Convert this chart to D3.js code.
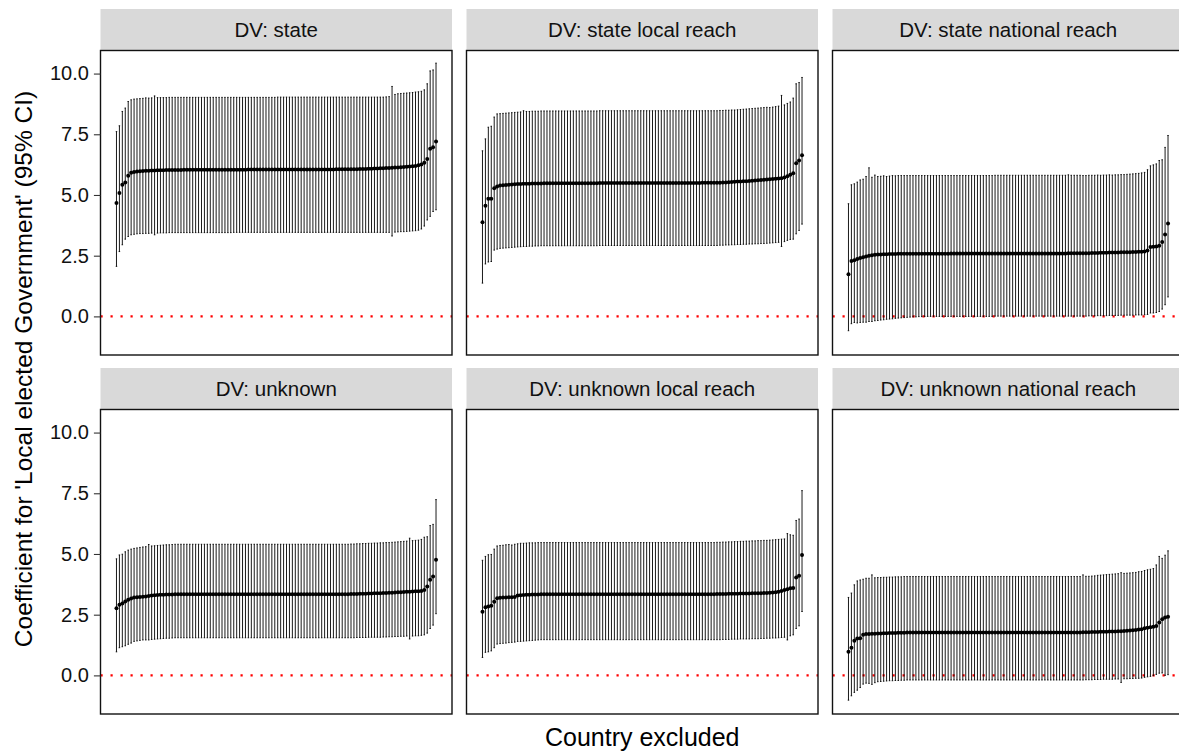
<!DOCTYPE html>
<html>
<head>
<meta charset="utf-8">
<title>Leave-one-country-out coefficients</title>
<script src="https://cdn.jsdelivr.net/npm/d3@7"></script>
<style>
body { margin: 0; background: #fff; }
svg text { font-family: "Liberation Sans", Arial, Helvetica, sans-serif; }
</style>
</head>
<body>
<script>

// facet labels, in panel order
var facets = ["DV: state", "DV: state local reach", "DV: state national reach",
              "DV: unknown", "DV: unknown local reach", "DV: unknown national reach"];

var yTicks = [0, 2.5, 5, 7.5, 10];

// point estimates, sorted, one value per excluded country (110 each)
var estState = [4.67,5.08,5.42,5.51,5.79,5.92,5.95,5.97,5.98,5.99,
  6.00,6.00,6.01,6.01,6.02,6.02,6.02,6.03,6.03,6.03,
  6.03,6.03,6.03,6.04,6.04,6.04,6.04,6.04,6.04,6.04,
  6.04,6.04,6.04,6.04,6.04,6.04,6.04,6.04,6.04,6.04,
  6.04,6.04,6.04,6.04,6.04,6.05,6.05,6.05,6.05,6.05,
  6.05,6.05,6.05,6.05,6.05,6.05,6.05,6.05,6.05,6.05,
  6.05,6.05,6.05,6.05,6.05,6.05,6.05,6.05,6.05,6.05,
  6.05,6.05,6.05,6.05,6.05,6.06,6.06,6.06,6.06,6.06,
  6.06,6.06,6.06,6.07,6.07,6.07,6.08,6.08,6.09,6.09,
  6.10,6.10,6.11,6.11,6.12,6.13,6.13,6.14,6.15,6.16,
  6.17,6.18,6.19,6.22,6.26,6.33,6.48,6.90,6.97,7.20];
var hiState = [7.61,7.85,8.44,8.58,8.85,8.92,8.95,8.96,8.97,8.98,
  9.00,8.99,9.00,9.08,9.01,9.01,9.01,9.01,9.02,9.02,
  9.02,9.02,9.02,9.02,9.02,9.02,9.02,9.02,9.02,9.02,
  9.02,9.02,9.02,9.02,9.02,9.02,9.02,9.02,9.02,9.02,
  9.02,9.02,9.02,9.02,9.02,9.02,9.02,9.02,9.02,9.02,
  9.02,9.02,9.02,9.02,9.02,9.03,9.03,9.03,9.03,9.03,
  9.03,9.03,9.03,9.03,9.03,9.03,9.03,9.03,9.03,9.03,
  9.03,9.03,9.03,9.03,9.03,9.03,9.03,9.03,9.03,9.03,
  9.03,9.03,9.03,9.03,9.03,9.03,9.03,9.03,9.03,9.03,
  9.03,9.03,9.04,9.05,9.47,9.14,9.17,9.18,9.19,9.20,
  9.21,9.22,9.24,9.25,9.27,9.33,9.58,10.11,10.15,10.43];
var loState = [2.06,2.67,2.95,3.18,3.29,3.36,3.38,3.40,3.41,3.41,
  3.42,3.42,3.43,3.36,3.43,3.44,3.44,3.44,3.45,3.45,
  3.45,3.45,3.45,3.45,3.45,3.45,3.45,3.45,3.45,3.45,
  3.45,3.45,3.45,3.45,3.45,3.45,3.45,3.45,3.45,3.45,
  3.46,3.46,3.46,3.46,3.46,3.46,3.46,3.46,3.46,3.46,
  3.46,3.46,3.46,3.46,3.46,3.46,3.46,3.46,3.46,3.46,
  3.46,3.46,3.46,3.46,3.46,3.46,3.46,3.46,3.46,3.46,
  3.46,3.46,3.46,3.46,3.46,3.46,3.46,3.46,3.46,3.46,
  3.46,3.46,3.46,3.46,3.46,3.46,3.46,3.46,3.46,3.46,
  3.46,3.46,3.46,3.46,3.31,3.47,3.48,3.49,3.49,3.50,
  3.51,3.52,3.53,3.55,3.60,3.72,3.97,4.12,4.32,4.39];

var estStateLocal = [3.88,4.56,4.84,4.84,5.28,5.35,5.39,5.40,5.41,5.42,
  5.43,5.44,5.45,5.45,5.46,5.46,5.46,5.47,5.47,5.47,
  5.47,5.48,5.48,5.48,5.48,5.48,5.48,5.48,5.48,5.48,
  5.48,5.48,5.48,5.48,5.48,5.48,5.48,5.48,5.48,5.48,
  5.49,5.49,5.49,5.49,5.49,5.49,5.49,5.49,5.49,5.49,
  5.49,5.49,5.49,5.49,5.49,5.49,5.49,5.49,5.49,5.49,
  5.49,5.49,5.49,5.49,5.49,5.49,5.49,5.49,5.49,5.49,
  5.49,5.49,5.49,5.49,5.49,5.50,5.50,5.50,5.50,5.50,
  5.50,5.50,5.51,5.51,5.52,5.53,5.54,5.55,5.56,5.57,
  5.57,5.58,5.59,5.60,5.61,5.62,5.63,5.64,5.65,5.66,
  5.67,5.68,5.69,5.72,5.77,5.83,5.90,6.31,6.42,6.64];
var hiStateLocal = [6.82,7.31,7.79,7.83,8.21,8.34,8.35,8.36,8.37,8.38,
  8.39,8.40,8.41,8.42,8.47,8.44,8.44,8.45,8.45,8.45,
  8.46,8.46,8.46,8.46,8.46,8.46,8.46,8.46,8.46,8.46,
  8.46,8.46,8.46,8.46,8.46,8.46,8.46,8.46,8.46,8.46,
  8.47,8.47,8.47,8.47,8.47,8.47,8.47,8.47,8.47,8.47,
  8.47,8.47,8.47,8.47,8.47,8.47,8.47,8.47,8.47,8.47,
  8.47,8.47,8.47,8.47,8.47,8.47,8.47,8.47,8.47,8.47,
  8.47,8.47,8.47,8.47,8.47,8.47,8.47,8.47,8.47,8.47,
  8.47,8.48,8.48,8.49,8.49,8.50,8.50,8.51,8.52,8.53,
  8.54,8.55,8.56,8.57,8.58,8.59,8.60,8.61,8.60,8.62,
  8.64,8.66,9.10,8.71,8.77,8.83,8.99,9.58,9.63,9.84];
var loStateLocal = [1.37,2.16,2.24,2.26,2.73,2.77,2.80,2.81,2.82,2.83,
  2.84,2.85,2.86,2.87,2.88,2.88,2.89,2.89,2.90,2.90,
  2.91,2.91,2.91,2.91,2.91,2.91,2.91,2.91,2.91,2.91,
  2.91,2.91,2.91,2.91,2.91,2.91,2.91,2.91,2.91,2.91,
  2.92,2.92,2.92,2.92,2.92,2.92,2.92,2.92,2.92,2.92,
  2.92,2.92,2.92,2.92,2.92,2.92,2.92,2.92,2.92,2.92,
  2.92,2.92,2.92,2.92,2.92,2.92,2.92,2.92,2.92,2.92,
  2.92,2.92,2.92,2.92,2.92,2.92,2.92,2.92,2.92,2.92,
  2.92,2.93,2.93,2.94,2.94,2.95,2.95,2.96,2.96,2.97,
  2.97,2.98,2.98,2.99,2.99,3.00,3.00,3.01,3.02,3.03,
  3.04,3.05,2.88,3.08,3.13,3.17,3.18,3.40,3.54,3.80];

var estStateNational = [1.74,2.28,2.31,2.36,2.40,2.44,2.47,2.50,2.52,2.54,
  2.55,2.55,2.56,2.56,2.57,2.57,2.57,2.58,2.58,2.58,
  2.58,2.58,2.58,2.58,2.58,2.58,2.58,2.58,2.58,2.58,
  2.58,2.58,2.58,2.58,2.58,2.59,2.59,2.59,2.59,2.59,
  2.59,2.59,2.59,2.59,2.59,2.59,2.59,2.59,2.59,2.59,
  2.59,2.59,2.59,2.59,2.59,2.59,2.59,2.59,2.59,2.59,
  2.59,2.59,2.59,2.59,2.59,2.59,2.59,2.59,2.59,2.59,
  2.59,2.59,2.59,2.59,2.59,2.60,2.60,2.60,2.60,2.60,
  2.60,2.60,2.60,2.61,2.61,2.61,2.62,2.62,2.62,2.63,
  2.63,2.63,2.63,2.64,2.64,2.64,2.64,2.65,2.65,2.66,
  2.66,2.67,2.71,2.86,2.87,2.88,2.91,3.06,3.37,3.83];
var hiStateNational = [4.64,5.42,5.46,5.53,5.62,5.65,5.76,6.12,5.73,5.82,
  5.76,5.77,5.79,5.76,5.78,5.80,5.79,5.80,5.80,5.80,
  5.80,5.80,5.80,5.80,5.80,5.80,5.80,5.80,5.80,5.80,
  5.80,5.80,5.80,5.80,5.80,5.80,5.80,5.80,5.80,5.80,
  5.80,5.80,5.80,5.80,5.80,5.80,5.80,5.80,5.80,5.80,
  5.81,5.81,5.81,5.81,5.81,5.81,5.81,5.81,5.81,5.81,
  5.81,5.81,5.81,5.81,5.81,5.81,5.81,5.81,5.81,5.81,
  5.81,5.81,5.81,5.81,5.81,5.83,5.81,5.81,5.81,5.81,
  5.80,5.80,5.81,5.81,5.81,5.82,5.81,5.82,5.82,5.83,
  5.82,5.83,5.83,5.84,5.84,5.85,5.86,5.87,5.88,5.89,
  5.91,5.93,6.04,6.20,6.24,6.28,6.42,6.45,6.96,7.45];
var loStateNational = [-0.59,-0.30,-0.25,-0.27,-0.25,-0.24,-0.24,-0.21,-0.21,-0.18,
  -0.17,-0.15,-0.14,-0.12,-0.11,-0.10,-0.08,-0.07,-0.06,-0.05,
  -0.04,-0.03,-0.02,-0.02,-0.01,-0.01,0.00,0.00,0.00,0.00,
  0.00,0.00,0.00,0.00,0.00,0.00,0.00,0.00,0.00,0.00,
  0.00,0.00,0.00,0.00,0.00,0.00,0.00,0.00,0.00,0.00,
  0.01,0.01,0.01,0.01,0.01,0.01,0.01,0.01,0.01,0.01,
  0.01,0.01,0.01,0.01,0.01,0.01,0.01,0.01,0.01,0.01,
  0.01,0.01,0.01,0.01,0.01,0.01,0.01,0.01,0.01,0.01,
  0.01,0.01,0.02,0.02,0.02,0.03,0.03,0.03,0.03,0.04,
  0.04,0.04,0.04,0.05,0.05,0.05,0.05,0.05,0.06,0.06,
  0.06,0.07,0.08,0.14,0.14,0.16,0.20,0.30,0.48,0.80];

var estUnknown = [2.77,2.91,2.96,3.04,3.11,3.17,3.21,3.22,3.23,3.24,
  3.25,3.27,3.29,3.30,3.31,3.32,3.32,3.33,3.33,3.33,
  3.34,3.34,3.34,3.34,3.34,3.34,3.34,3.34,3.34,3.34,
  3.34,3.34,3.34,3.34,3.34,3.34,3.34,3.34,3.34,3.34,
  3.34,3.34,3.34,3.34,3.34,3.34,3.34,3.34,3.34,3.34,
  3.34,3.34,3.34,3.34,3.34,3.34,3.34,3.34,3.34,3.34,
  3.34,3.34,3.34,3.34,3.34,3.34,3.34,3.34,3.34,3.34,
  3.34,3.34,3.34,3.34,3.34,3.34,3.34,3.34,3.34,3.34,
  3.35,3.35,3.35,3.36,3.36,3.36,3.37,3.37,3.38,3.38,
  3.38,3.39,3.39,3.40,3.40,3.41,3.42,3.42,3.43,3.44,
  3.44,3.45,3.46,3.47,3.48,3.52,3.66,3.94,4.07,4.76];
var hiUnknown = [4.80,4.96,4.99,5.09,5.16,5.20,5.23,5.25,5.27,5.29,
  5.30,5.39,5.33,5.34,5.35,5.36,5.37,5.38,5.38,5.39,
  5.40,5.40,5.40,5.40,5.40,5.40,5.40,5.40,5.40,5.40,
  5.40,5.40,5.40,5.40,5.40,5.40,5.40,5.40,5.40,5.40,
  5.40,5.40,5.40,5.40,5.40,5.40,5.40,5.40,5.40,5.40,
  5.40,5.40,5.40,5.40,5.40,5.40,5.40,5.40,5.40,5.40,
  5.40,5.40,5.40,5.40,5.40,5.40,5.40,5.40,5.40,5.40,
  5.40,5.40,5.40,5.40,5.40,5.40,5.40,5.40,5.40,5.40,
  5.41,5.41,5.42,5.42,5.43,5.43,5.44,5.44,5.45,5.45,
  5.46,5.46,5.47,5.47,5.48,5.49,5.50,5.51,5.52,5.53,
  5.65,5.55,5.56,5.57,5.60,5.69,5.71,6.17,6.22,7.24];
var loUnknown = [0.97,1.14,1.18,1.22,1.28,1.33,1.40,1.42,1.44,1.46,
  1.46,1.46,1.48,1.49,1.50,1.51,1.52,1.53,1.53,1.54,
  1.55,1.55,1.55,1.55,1.55,1.55,1.55,1.55,1.55,1.55,
  1.55,1.55,1.55,1.55,1.55,1.55,1.55,1.55,1.55,1.55,
  1.55,1.55,1.55,1.55,1.55,1.55,1.55,1.55,1.55,1.55,
  1.55,1.55,1.55,1.55,1.55,1.55,1.55,1.55,1.55,1.55,
  1.55,1.55,1.55,1.55,1.55,1.55,1.55,1.55,1.55,1.55,
  1.55,1.55,1.55,1.55,1.55,1.55,1.55,1.55,1.55,1.55,
  1.55,1.55,1.56,1.56,1.56,1.56,1.57,1.57,1.57,1.57,
  1.57,1.58,1.58,1.59,1.59,1.60,1.60,1.61,1.61,1.62,
  1.50,1.62,1.63,1.63,1.65,1.67,1.74,1.93,2.07,2.54];

var estUnknownLocal = [2.62,2.81,2.84,2.87,3.03,3.18,3.20,3.21,3.21,3.22,
  3.22,3.23,3.29,3.30,3.31,3.32,3.32,3.33,3.33,3.33,
  3.34,3.34,3.34,3.34,3.34,3.34,3.34,3.34,3.34,3.34,
  3.34,3.34,3.34,3.34,3.34,3.34,3.34,3.34,3.34,3.34,
  3.34,3.34,3.34,3.34,3.34,3.34,3.34,3.34,3.34,3.34,
  3.34,3.34,3.34,3.34,3.34,3.34,3.34,3.34,3.34,3.34,
  3.34,3.34,3.34,3.34,3.34,3.34,3.34,3.34,3.34,3.34,
  3.34,3.34,3.34,3.34,3.34,3.34,3.34,3.34,3.34,3.34,
  3.35,3.35,3.35,3.35,3.36,3.36,3.36,3.36,3.37,3.37,
  3.37,3.37,3.38,3.38,3.38,3.38,3.39,3.39,3.40,3.41,
  3.42,3.44,3.48,3.52,3.55,3.59,3.60,4.03,4.10,4.96];
var hiUnknownLocal = [4.74,4.90,4.97,4.98,5.20,5.33,5.35,5.36,5.38,5.39,
  5.37,5.40,5.42,5.44,5.44,5.45,5.46,5.46,5.46,5.47,
  5.47,5.47,5.47,5.47,5.47,5.47,5.47,5.47,5.47,5.47,
  5.47,5.47,5.47,5.47,5.47,5.47,5.47,5.47,5.47,5.47,
  5.47,5.47,5.47,5.47,5.47,5.47,5.47,5.47,5.47,5.47,
  5.47,5.47,5.47,5.47,5.47,5.47,5.47,5.47,5.47,5.47,
  5.47,5.47,5.47,5.47,5.47,5.47,5.47,5.47,5.47,5.47,
  5.47,5.47,5.47,5.47,5.47,5.47,5.47,5.47,5.47,5.47,
  5.48,5.48,5.49,5.49,5.50,5.50,5.51,5.51,5.52,5.52,
  5.53,5.53,5.54,5.54,5.55,5.55,5.56,5.56,5.57,5.58,
  5.59,5.60,5.61,5.62,5.84,5.79,5.77,6.38,6.44,7.61];
var loUnknownLocal = [0.74,0.95,0.97,1.01,1.14,1.29,1.31,1.32,1.33,1.35,
  1.36,1.37,1.40,1.40,1.41,1.42,1.43,1.44,1.45,1.46,
  1.47,1.47,1.47,1.47,1.47,1.47,1.47,1.47,1.47,1.47,
  1.47,1.47,1.47,1.47,1.47,1.47,1.47,1.47,1.47,1.47,
  1.47,1.47,1.47,1.47,1.47,1.47,1.47,1.47,1.47,1.47,
  1.47,1.47,1.47,1.47,1.47,1.47,1.47,1.47,1.47,1.47,
  1.47,1.47,1.47,1.47,1.47,1.47,1.47,1.47,1.47,1.47,
  1.47,1.47,1.47,1.47,1.47,1.47,1.47,1.47,1.47,1.47,
  1.47,1.47,1.48,1.48,1.48,1.49,1.49,1.49,1.50,1.50,
  1.50,1.50,1.51,1.51,1.51,1.52,1.52,1.53,1.53,1.54,
  1.54,1.55,1.56,1.57,1.46,1.63,1.67,1.93,2.04,2.63];

var estUnknownNational = [0.97,1.14,1.43,1.52,1.53,1.67,1.70,1.70,1.71,1.72,
  1.73,1.73,1.74,1.74,1.75,1.75,1.75,1.76,1.76,1.76,
  1.77,1.77,1.77,1.77,1.77,1.77,1.77,1.77,1.77,1.77,
  1.77,1.77,1.77,1.77,1.77,1.77,1.77,1.77,1.77,1.77,
  1.77,1.77,1.77,1.77,1.77,1.77,1.77,1.77,1.77,1.77,
  1.77,1.77,1.77,1.77,1.77,1.77,1.77,1.77,1.77,1.77,
  1.77,1.77,1.77,1.77,1.77,1.77,1.77,1.77,1.77,1.77,
  1.77,1.77,1.77,1.77,1.77,1.77,1.77,1.77,1.77,1.77,
  1.78,1.78,1.78,1.79,1.79,1.79,1.80,1.80,1.80,1.81,
  1.81,1.81,1.82,1.82,1.83,1.84,1.85,1.86,1.87,1.89,
  1.90,1.94,1.96,1.98,2.00,2.03,2.18,2.31,2.38,2.41];
var hiUnknownNational = [3.21,3.39,3.73,3.89,3.93,3.96,4.00,4.00,4.14,4.02,
  4.03,4.03,4.04,4.04,4.05,4.05,4.06,4.06,4.06,4.07,
  4.07,4.07,4.07,4.07,4.07,4.07,4.07,4.07,4.07,4.07,
  4.07,4.07,4.07,4.07,4.07,4.07,4.07,4.07,4.07,4.07,
  4.07,4.07,4.07,4.07,4.07,4.07,4.07,4.07,4.07,4.07,
  4.07,4.07,4.07,4.07,4.07,4.07,4.07,4.07,4.07,4.07,
  4.07,4.07,4.07,4.07,4.07,4.07,4.07,4.07,4.07,4.07,
  4.07,4.07,4.07,4.07,4.07,4.07,4.07,4.07,4.07,4.07,
  4.14,4.08,4.08,4.09,4.10,4.12,4.13,4.14,4.15,4.16,
  4.17,4.18,4.19,4.23,4.20,4.21,4.22,4.23,4.24,4.27,
  4.28,4.32,4.35,4.37,4.40,4.55,4.90,4.82,4.95,5.13];
var loUnknownNational = [-1.02,-0.84,-0.70,-0.61,-0.50,-0.36,-0.32,-0.33,-0.37,-0.30,
  -0.26,-0.25,-0.24,-0.23,-0.22,-0.22,-0.21,-0.21,-0.20,-0.20,
  -0.19,-0.19,-0.19,-0.19,-0.19,-0.19,-0.19,-0.19,-0.19,-0.19,
  -0.19,-0.19,-0.19,-0.19,-0.19,-0.19,-0.19,-0.19,-0.19,-0.19,
  -0.19,-0.19,-0.19,-0.19,-0.19,-0.19,-0.19,-0.19,-0.19,-0.19,
  -0.19,-0.19,-0.19,-0.19,-0.19,-0.19,-0.19,-0.19,-0.19,-0.19,
  -0.19,-0.19,-0.19,-0.19,-0.19,-0.19,-0.19,-0.19,-0.19,-0.19,
  -0.19,-0.19,-0.19,-0.19,-0.19,-0.19,-0.19,-0.19,-0.19,-0.19,
  -0.19,-0.18,-0.18,-0.18,-0.17,-0.17,-0.17,-0.16,-0.16,-0.16,
  -0.16,-0.15,-0.15,-0.29,-0.14,-0.14,-0.13,-0.13,-0.12,-0.12,
  -0.11,-0.08,-0.06,-0.04,-0.01,0.04,0.09,0.10,0.00,0.03];

var estimates = [estState, estStateLocal, estStateNational, estUnknown, estUnknownLocal, estUnknownNational];
var uppers = [hiState, hiStateLocal, hiStateNational, hiUnknown, hiUnknownLocal, hiUnknownNational];
var lowers = [loState, loStateLocal, loStateNational, loUnknown, loUnknownLocal, loUnknownNational];

var w = 1179;
var h = 752;
var panelW = 351.5;
var panelH = 304.5;
var stripH = 41.5;
var colX = [100.5, 466.5, 832.5];
var rowY = [9, 368];            // top of each strip
var yDomain = [-1.59, 10.95];

var svg = d3.select("body").append("svg")
    .attr("width", w)
    .attr("height", h);

svg.append("rect").attr("width", w).attr("height", h).attr("fill", "white");

facets.forEach(function(name, k) {
    var col = k % 3, row = Math.floor(k / 3);
    var x0 = colX[col];
    var top = rowY[row] + stripH;
    var est = estimates[k];
    var n = est.length;
    var pad = (n - 1) * 0.05;

    var xScale = d3.scaleLinear()
        .domain([1 - pad, n + pad])
        .range([x0, x0 + panelW]);
    var yScale = d3.scaleLinear()
        .domain(yDomain)
        .range([top + panelH, top]);

    var rows = est.map(function(d, i) {
        return {x: i + 1, est: d, lo: lowers[k][i], hi: uppers[k][i]};
    });

    // strip
    svg.append("rect")
        .attr("x", x0).attr("y", rowY[row])
        .attr("width", panelW).attr("height", stripH)
        .attr("fill", "#d9d9d9");
    svg.append("text")
        .attr("x", x0 + panelW / 2)
        .attr("y", rowY[row] + stripH / 2)
        .attr("dy", "0.35em")
        .attr("text-anchor", "middle")
        .attr("font-size", "20.5px")
        .attr("fill", "#111")
        .text(name);

    var g = svg.append("g");

    // zero reference
    g.append("line")
        .attr("x1", x0).attr("x2", x0 + panelW)
        .attr("y1", yScale(0)).attr("y2", yScale(0))
        .attr("stroke", "red")
        .attr("stroke-width", 2.2)
        .attr("stroke-dasharray", "2.2,7.8");

    // error bars
    g.selectAll("line.bar")
        .data(rows)
        .enter()
        .append("line")
        .attr("class", "bar")
        .attr("x1", function(d) { return xScale(d.x); })
        .attr("x2", function(d) { return xScale(d.x); })
        .attr("y1", function(d) { return yScale(d.lo); })
        .attr("y2", function(d) { return yScale(d.hi); })
        .attr("stroke", "black")
        .attr("stroke-width", 0.9);

    var capW = 0.25;
    ["lo", "hi"].forEach(function(key) {
        g.selectAll("line.cap-" + key)
            .data(rows)
            .enter()
            .append("line")
            .attr("class", "cap-" + key)
            .attr("x1", function(d) { return xScale(d.x - capW); })
            .attr("x2", function(d) { return xScale(d.x + capW); })
            .attr("y1", function(d) { return yScale(d[key]); })
            .attr("y2", function(d) { return yScale(d[key]); })
            .attr("stroke", "black")
            .attr("stroke-width", 0.9);
    });

    // points
    g.selectAll("circle")
        .data(rows)
        .enter()
        .append("circle")
        .attr("cx", function(d) { return xScale(d.x); })
        .attr("cy", function(d) { return yScale(d.est); })
        .attr("r", 2)
        .attr("fill", "black");

    // border
    svg.append("rect")
        .attr("x", x0).attr("y", top)
        .attr("width", panelW).attr("height", panelH)
        .attr("fill", "none")
        .attr("stroke", "#111")
        .attr("stroke-width", 1.4);

    // y axis on the left column only
    if (col === 0) {
        var axis = d3.axisLeft(yScale)
            .tickValues(yTicks)
            .tickSize(6.6)
            .tickPadding(5)
            .tickFormat(d3.format(".1f"));
        var ag = svg.append("g")
            .attr("transform", "translate(" + x0 + ",0)")
            .call(axis);
        ag.select(".domain").remove();
        ag.selectAll(".tick line").attr("stroke", "#333").attr("stroke-width", 1.1);
        ag.selectAll(".tick text")
            .attr("font-size", "20px")
            .attr("fill", "#111")
            .style("font-family", "'Liberation Sans', Arial, sans-serif");
    }
});

// axis titles
svg.append("text")
    .attr("x", (colX[0] + colX[2] + panelW) / 2)
    .attr("y", 737)
    .attr("dy", "0.35em")
    .attr("text-anchor", "middle")
    .attr("font-size", "25px")
    .attr("fill", "black")
    .text("Country excluded");

svg.append("text")
    .attr("transform", "translate(23,369) rotate(-90)")
    .attr("dy", "0.35em")
    .attr("text-anchor", "middle")
    .attr("font-size", "24.5px")
    .attr("fill", "black")
    .text("Coefficient for 'Local elected Government' (95% CI)");

</script>
</body>
</html>
